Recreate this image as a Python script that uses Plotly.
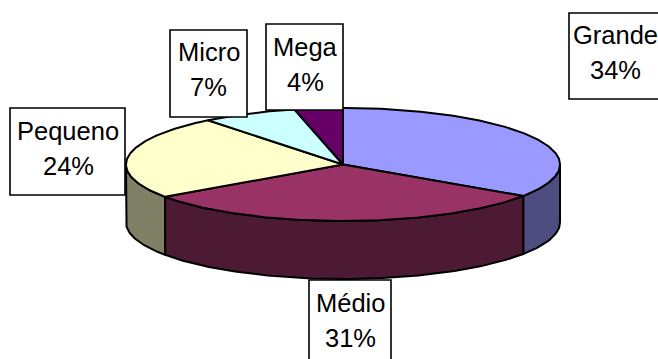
import numpy as np
import plotly.graph_objects as go

categories = ["Grande", "Médio", "Pequeno", "Micro", "Mega"]
values = [34.4, 30.9, 24.0, 7.1, 3.6]
top_colors = ["#9999FF", "#993366", "#FFFFCC", "#CCFFFF", "#660066"]
side_colors = ["#4D4D80", "#4D1A33", "#808066", "#668080", "#330033"]

# Pie projection, in the pixel-like units of the axes
CX, CY, RX, RY, DEPTH = 343, 164.5, 217, 56.5, 58

# Label boxes (left, top, right, bottom) and text centres
boxes = [(569, 13, 668, 99), (309, 280, 391, 362), (10, 108, 125, 195), (170, 30, 247, 117), (266, 24, 343, 110)]
centers = [(615.5, 35, 70), (350, 303, 338), (68, 131, 166), (208.5, 52, 87), (305, 47, 82)]
FONT = "Liberation Sans, Arial, sans-serif"
FONT_SIZE = 25.5

def rim(a0, a1):
    t = np.radians(np.linspace(a0, a1, max(2, int(abs(a1 - a0)) + 2)))
    return CX + RX * np.sin(t), CY - RY * np.cos(t)

fig = go.Figure()
total = sum(values)
edges = np.concatenate([[0], np.cumsum(values) / total * 360])

# Side walls: only the front half (90..270 degrees clockwise from the top) shows
for i, c in enumerate(side_colors):
    a0, a1 = max(edges[i], 90), min(edges[i + 1], 270)
    if a1 <= a0:
        continue
    x, y = rim(a0, a1)
    fig.add_trace(go.Scatter(
        x=np.concatenate([x, x[::-1], x[:1]]),
        y=np.concatenate([y, y[::-1] + DEPTH, y[:1]]),
        mode="lines", fill="toself", fillcolor=c,
        line=dict(color="black", width=2), hoverinfo="skip",
    ))

# Top faces
for i, c in enumerate(top_colors):
    x, y = rim(edges[i], edges[i + 1])
    fig.add_trace(go.Scatter(
        x=np.concatenate([[CX], x, [CX]]),
        y=np.concatenate([[CY], y, [CY]]),
        mode="lines", fill="toself", fillcolor=c,
        line=dict(color="black", width=2), hoverinfo="skip",
    ))

# Label boxes and two-line label text
for name, v, b, (cx, y1, y2) in zip(categories, values, boxes, centers):
    fig.add_shape(type="rect", xref="x", yref="y", x0=b[0], y0=b[1], x1=b[2], y1=b[3],
                  fillcolor="white", line=dict(color="black", width=1.6), layer="above")
    for text, yy in ((name, y1), (f"{round(v / total * 100)}%", y2)):
        fig.add_annotation(x=cx, y=yy, text=text, showarrow=False, xref="x", yref="y",
                           xanchor="center", yanchor="middle",
                           font=dict(family=FONT, size=FONT_SIZE, color="black"))

fig.update_layout(
    width=658, height=359, margin=dict(l=0, r=0, t=0, b=0),
    paper_bgcolor="white", plot_bgcolor="white", showlegend=False,
    xaxis=dict(range=[0, 658], visible=False, fixedrange=True),
    yaxis=dict(range=[359, 0], visible=False, fixedrange=True),
)
fig.write_html("out.html", config={"displayModeBar": False},
               post_script="document.body.style.margin='0';document.documentElement.style.overflow='hidden';")
